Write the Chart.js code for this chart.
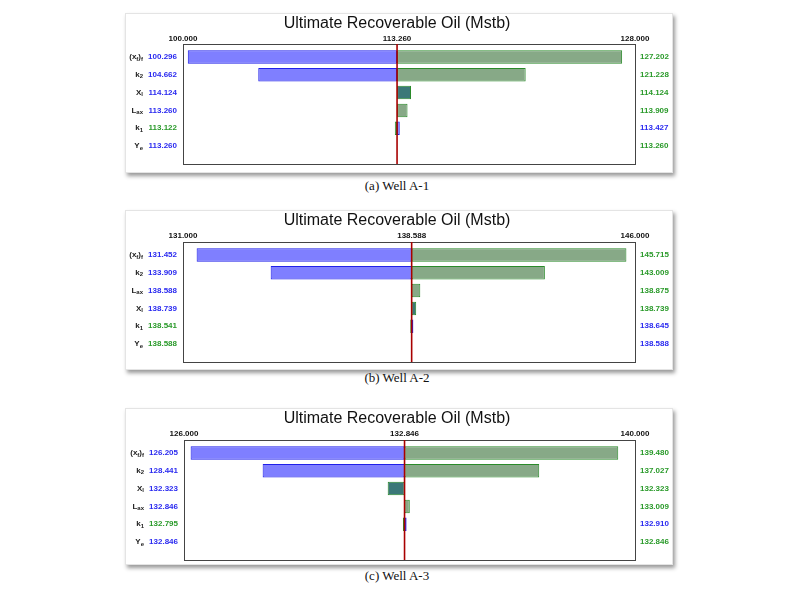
<!DOCTYPE html>
<html><head><meta charset="utf-8">
<script src="https://cdn.jsdelivr.net/npm/chart.js"></script>
<style>
body{margin:0;background:#fff;width:800px;height:593px;position:relative;overflow:hidden}
.p{position:absolute;left:125px;width:548px;background:#fff;box-shadow:2px 3px 4px #999;border:1px solid #e4e4e4;box-sizing:border-box}
.cap{position:absolute;left:0;width:794px;text-align:center;font:13px "Liberation Serif","DejaVu Serif",serif;color:#111}
</style></head><body>
<div class="p" id="d1" style="top:13px;height:160px"><canvas id="c1"></canvas></div>
<div class="cap" style="top:178px">(a) Well A-1</div>
<div class="p" id="d2" style="top:210px;height:160px"><canvas id="c2"></canvas></div>
<div class="cap" style="top:370px">(b) Well A-2</div>
<div class="p" id="d3" style="top:408px;height:157px"><canvas id="c3"></canvas></div>
<div class="cap" style="top:568px">(c) Well A-3</div>
<script>
const title = "Ultimate Recoverable Oil (Mstb)";
// Well A-1
const params1 = ["(x_f)_f","k_2","X_l","L_a_x","k_1","Y_e"];
const base1 = 113.260, min1 = 100, max1 = 128;
const left1 = [100.296,104.662,114.124,113.260,113.122,113.260];
const right1 = [127.202,121.228,114.124,113.909,113.427,113.260];
const leftSrc1 = ["low","low","low","low","high","low"];
// Well A-2
const params2 = ["(x_f)_f","k_2","L_a_x","X_l","k_1","Y_e"];
const base2 = 138.588, min2 = 131, max2 = 146;
const left2 = [131.452,133.909,138.588,138.739,138.541,138.588];
const right2 = [145.715,143.009,138.875,138.739,138.645,138.588];
const leftSrc2 = ["low","low","low","low","high","high"];
// Well A-3
const params3 = ["(x_f)_f","k_2","X_l","L_a_x","k_1","Y_e"];
const base3 = 132.846, min3 = 126, max3 = 140;
const left3 = [126.205,128.441,132.323,132.846,132.795,132.846];
const right3 = [139.480,137.027,132.323,133.009,132.910,132.846];
const leftSrc3 = ["low","low","low","low","high","low"];

const BLUE="rgba(105,105,255,0.85)", BLUEB="#2020e8", GREEN="#87a987", GREENB="#2a8a2a", TEAL="#3b7878";
const BLUET="#2a2af0", GREENT="#2a9a2a";

function drawSub(ctx, s, xRight, y){
  const parts=[]; let i=0;
  while(i<s.length){ if(s[i]==='_'){parts.push([s[i+1],true]);i+=2;} else {parts.push([s[i],false]);i++;} }
  const fm="bold 8px 'Liberation Sans',Arial", fs="bold 6px 'Liberation Sans',Arial";
  let w=0; parts.forEach(p=>{ctx.font=p[1]?fs:fm; w+=ctx.measureText(p[0]).width;});
  let x=xRight-w; ctx.textAlign='left'; ctx.fillStyle='#222';
  parts.forEach(p=>{ctx.font=p[1]?fs:fm; ctx.fillText(p[0],x,y+(p[1]?2:0)); x+=ctx.measureText(p[0]).width;});
}

function make(id, params, base, mn, mx, L, R, src, pad){
  const ds1=[], ds2=[], c1=[], c2=[], b1=[], b2=[];
  for(let i=0;i<params.length;i++){
    const lc = src[i]==='low'?BLUE:GREEN, lb = src[i]==='low'?BLUEB:GREENB;
    const rc = src[i]==='low'?GREEN:BLUE, rb = src[i]==='low'?GREENB:BLUEB;
    if(L[i]===R[i]){
      ds1.push(L[i]===base?null:[base,L[i]]); c1.push(TEAL); b1.push(GREENB); ds2.push(null); c2.push(TEAL); b2.push(GREENB);
    } else {
      ds1.push(L[i]===base?null:[base,L[i]]); c1.push(lc); b1.push(lb);
      ds2.push(R[i]===base?null:[base,R[i]]); c2.push(rc); b2.push(rb);
    }
  }
  const deco={id:'deco'+id,
    afterDatasetsDraw(ch){
      const ctx=ch.ctx, a=ch.chartArea, xs=ch.scales.x, ys=ch.scales.y;
      const top=a.top-4, bot=a.bottom+9;
      ctx.save();
      ctx.strokeStyle='#444'; ctx.lineWidth=1; ctx.strokeRect(a.left+0.5,top+0.5,a.right-a.left,bot-top);
      const bx=xs.getPixelForValue(base);
      ctx.strokeStyle='#a80000'; ctx.lineWidth=1.6; ctx.beginPath(); ctx.moveTo(bx,top); ctx.lineTo(bx,bot); ctx.stroke();
      ctx.fillStyle='#111'; ctx.font="16px 'Liberation Sans',Arial"; ctx.textAlign='center'; ctx.textBaseline='middle';
      ctx.fillText(title, 271, 10);
      ctx.font="bold 8px 'Liberation Sans',Arial";
      [mn,base,mx].forEach(v=>ctx.fillText(v.toFixed(3), xs.getPixelForValue(v), 25));
      params.forEach((p,i)=>{
        const y=ys.getPixelForValue(i);
        drawSub(ctx,p,a.left-40,y);
        ctx.font="bold 8px 'Liberation Sans',Arial";
        ctx.textAlign='right'; ctx.fillStyle= src[i]==='low'?BLUET:GREENT; ctx.fillText(L[i].toFixed(3), a.left-6, y);
        ctx.textAlign='left'; ctx.fillStyle= src[i]==='low'?GREENT:BLUET; ctx.fillText(R[i].toFixed(3), a.right+5, y);
      });
      ctx.restore();
    }};
  new Chart(document.getElementById(id),{
    type:'bar',
    data:{labels:params,datasets:[
      {data:ds1,backgroundColor:c1,borderColor:b1,borderWidth:1,grouped:false,barPercentage:0.76,categoryPercentage:1,borderSkipped:false},
      {data:ds2,backgroundColor:c2,borderColor:b2,borderWidth:1,grouped:false,barPercentage:0.76,categoryPercentage:1,borderSkipped:false}]},
    options:{indexAxis:'y',responsive:true,maintainAspectRatio:false,animation:false,
      layout:{padding:pad},
      plugins:{legend:{display:false},tooltip:{enabled:false}},
      scales:{x:{display:false,min:mn,max:mx},y:{display:false}}},
    plugins:[deco]});
}
make('c1',params1,base1,min1,max1,left1,right1,leftSrc1,{left:57,right:37,top:34,bottom:17});
make('c2',params2,base2,min2,max2,left2,right2,leftSrc2,{left:57,right:37,top:35,bottom:16});
make('c3',params3,base3,min3,max3,left3,right3,leftSrc3,{left:58,right:37,top:35,bottom:13});
</script></body></html>
